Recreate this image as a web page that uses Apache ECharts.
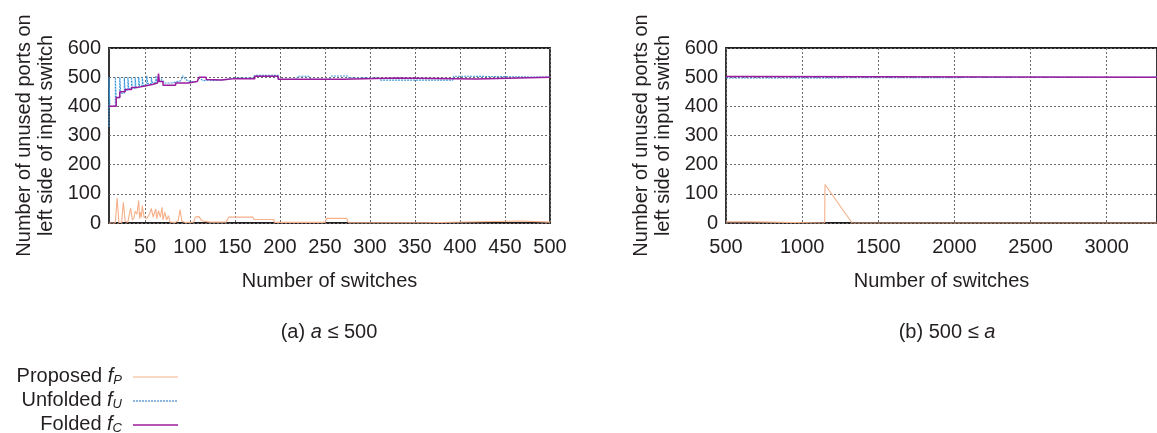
<!DOCTYPE html>
<html><head><meta charset="utf-8">
<script src="https://cdn.jsdelivr.net/npm/echarts@6/dist/echarts.min.js"></script>
<style>html,body{margin:0;padding:0;background:#fff}#c{width:1157px;height:433px}</style>
</head><body><div id="c"></div>
<script>
// ---------- data ----------
const xTicksA = [50, 100, 150, 200, 250, 300, 350, 400, 450, 500];
const yTicks = [0, 100, 200, 300, 400, 500, 600];

// (a) a <= 500
const proposedA = [[10,0],[17,0],[19,86],[21,2],[24,2],[26,71],[28,5],[31,3],[32,20],[34,52],[36,10],[38,20],[39,40],[41,30],[43,77],[44,15],[45,37],[46,20],[47,60],[49,20],[52,15],[55,30],[57,50],[59,20],[60,30],[62,48],[63,15],[65,42],[67,20],[69,54],[70,10],[72,37],[74,10],[76,25],[78,3],[84,2],[87,10],[89,46],[91,5],[95,2],[104,3],[106,20],[110,22],[113,8],[122,3],[140,3],[143,20],[170,20],[171,12],[193,12],[194,2],[250,2],[252,16],[274,16],[276,1],[363,1],[365,7],[467,7],[469,3],[500,3]];
const unfoldedA = [[10,330],[10,500],[11,500],[11,400],[17,400],[17,500],[18,500],[18,430],[22,430],[22,500],[23,500],[23,445],[27,445],[27,500],[28,455],[31,455],[31,500],[32,460],[35,460],[35,500],[36,462],[39,462],[39,500],[40,466],[43,466],[43,500],[44,470],[47,470],[47,500],[48,472],[52,472],[52,505],[53,478],[57,478],[57,500],[58,482],[62,482],[62,505],[63,485],[68,485],[68,495],[72,480],[80,480],[82,482],[90,488],[92,505],[95,492],[100,485],[108,485],[110,497],[115,488],[120,490],[125,488],[135,490],[150,497],[170,497],[172,506],[198,506],[198,493],[218,493],[220,503],[232,503],[234,493],[255,493],[257,504],[275,504],[277,497],[310,497],[312,490],[392,490],[393,503],[414,503],[416,500],[500,500]];
const foldedA = [[10,400],[18,400],[18,430],[22,430],[22,450],[28,450],[28,458],[35,458],[35,465],[42,465],[42,470],[50,470],[50,475],[58,475],[58,480],[64,480],[65,512],[66,485],[70,485],[70,472],[84,472],[84,480],[98,480],[98,485],[108,485],[110,500],[118,500],[118,492],[135,490],[140,492],[150,495],[172,495],[172,503],[198,503],[198,493],[270,493],[272,497],[330,497],[330,494],[418,494],[418,500],[500,500]];

// (b) 500 <= a
const proposedB = [[500,4],[665,4],[667,0],[1148,0],[1150,132],[1328,0],[3330,0]];
const unfoldedB = [[500,497],[580,497],[582,500],[3330,500]];
const foldedB = [[500,502],[580,502],[582,500],[3330,500]];

const seriesNames = ['Proposed', 'Unfolded', 'Folded'];
const seriesSubs = ['P', 'U', 'C'];
const colors = ['#f6b08a', '#3a98dc', '#9b1c9e'];

// ---------- chart ----------
const FONT = 'Liberation Sans, Arial, sans-serif';
const TXT = '#231f20';
const chart = echarts.init(document.getElementById('c'), null, {renderer: 'canvas'});

const gridLine = {show: true, lineStyle: {color: '#6a6a6a', type: [2, 2], width: 1}};
const yName = 'Number of unused ports on\nleft side of input switch';

function yAxis(gi) {
  return {
    gridIndex: gi, type: 'value', min: 0, max: 600, interval: 100,
    axisLine: {show: false}, axisTick: {show: false},
    axisLabel: {color: TXT, fontSize: 20, fontFamily: FONT, margin: 8},
    splitLine: gridLine,
    name: yName, nameLocation: 'middle', nameGap: 52,
    nameTextStyle: {color: TXT, fontSize: 20, fontFamily: FONT, lineHeight: 22}
  };
}

function line(name, data, xi, idx, z) {
  const st = {color: colors[idx], width: idx === 2 ? 1.5 : 1.1};
  if (idx === 1) st.type = [2, 1];
  return {name, type: 'line', xAxisIndex: xi, yAxisIndex: xi, data, showSymbol: false, symbol: 'none',
    lineStyle: st, itemStyle: {color: colors[idx]}, z, animation: false, clip: true};
}

function legendItems() {
  const out = [];
  const ys = [376, 400, 424];
  for (let i = 0; i < 3; i++) {
    out.push({type: 'text', x: 122, y: ys[i],
      style: {text: '{n|' + seriesNames[i] + ' }{i|f}{s|' + seriesSubs[i] + '}',
        align: 'right', verticalAlign: 'middle',
        rich: {
          n: {fontSize: 20, fontFamily: FONT, fill: TXT, lineHeight: 24, verticalAlign: 'middle'},
          i: {fontSize: 20, fontFamily: FONT, fontStyle: 'italic', fill: TXT, lineHeight: 24, verticalAlign: 'middle'},
          s: {fontSize: 13, fontFamily: FONT, fontStyle: 'italic', fill: TXT, lineHeight: 24, verticalAlign: 'bottom', padding: [0, 0, 1, 0]}
        }}});
    const ls = {stroke: i === 1 ? '#1f6fc0' : colors[i], lineWidth: i === 2 ? 1.5 : 1.2};
    if (i === 1) ls.lineDash = [2, 1];
    out.push({type: 'line', shape: {x1: 133, y1: ys[i] + 1, x2: 178, y2: ys[i] + 1}, style: ls});
  }
  return out;
}

function caption(x, parts) {
  return {type: 'text', x, y: 332,
    style: {text: parts, align: 'center', verticalAlign: 'middle',
      rich: {
        n: {fontSize: 20, fontFamily: FONT, fill: TXT},
        i: {fontSize: 20, fontFamily: FONT, fontStyle: 'italic', fill: TXT}
      }}};
}

const option = {
  backgroundColor: '#fff',
  animation: false,
  grid: [
    {left: 109, top: 48, width: 441, height: 175, show: true, borderColor: '#231f20', borderWidth: 1.8, backgroundColor: 'transparent'},
    {left: 726, top: 48, right: -11, height: 175, show: true, borderColor: '#231f20', borderWidth: 1.8, backgroundColor: 'transparent'}
  ],
  xAxis: [
    {gridIndex: 0, type: 'value', min: 10, max: 500,
      axisLine: {show: false},
      axisTick: {show: false, customValues: xTicksA},
      axisLabel: {color: TXT, fontSize: 20, fontFamily: FONT, margin: 14, customValues: xTicksA},
      splitLine: gridLine,
      name: 'Number of switches', nameLocation: 'middle', nameGap: 48,
      nameTextStyle: {color: TXT, fontSize: 20, fontFamily: FONT}},
    {gridIndex: 1, type: 'value', min: 500, max: 3330, interval: 500,
      axisLine: {show: false}, axisTick: {show: false},
      axisLabel: {color: TXT, fontSize: 20, fontFamily: FONT, margin: 14, showMaxLabel: false,
        formatter: function (v) { return String(v); }},
      splitLine: gridLine,
      name: 'Number of switches', nameLocation: 'middle', nameGap: 48,
      nameTextStyle: {color: TXT, fontSize: 20, fontFamily: FONT}}
  ],
  yAxis: [yAxis(0), yAxis(1)],
  series: [
    line('Proposed', proposedA, 0, 0, 2),
    line('Unfolded', unfoldedA, 0, 1, 3),
    line('Folded', foldedA, 0, 2, 4),
    line('Proposed', proposedB, 1, 0, 2),
    line('Unfolded', unfoldedB, 1, 1, 3),
    line('Folded', foldedB, 1, 2, 4)
  ],
  graphic: [
    caption(329, '{n|(a) }{i|a}{n| ≤ 500}'),
    caption(947, '{n|(b) 500 ≤ }{i|a}')
  ].concat(legendItems())
};
chart.setOption(option);
</script>
</body></html>
